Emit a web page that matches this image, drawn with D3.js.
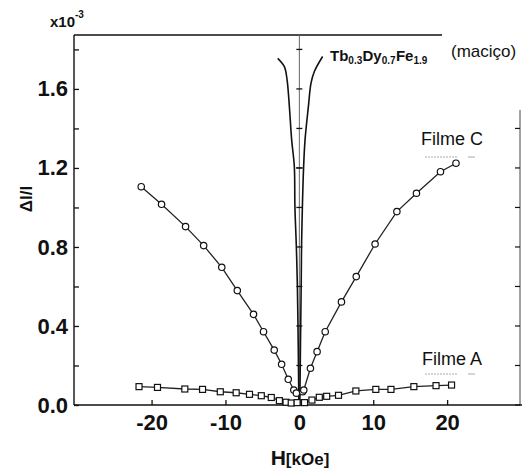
<!DOCTYPE html>
<html><head><meta charset="utf-8">
<script src="https://cdn.jsdelivr.net/npm/d3@7/dist/d3.min.js"></script>
<style>
body{margin:0;background:#fff;}
svg{display:block;font-family:"Liberation Sans",Arial,sans-serif;}
</style></head><body>
<svg id="c" width="522" height="469"></svg>
<script>
// Filme C (circles)
const filmeC_H = [-21.4,-18.65,-15.4,-12.95,-10.5,-8.4,-6.2,-4.85,-3.4,-2.4,-1.5,-0.75,-0.4,0.45,0.6,1.5,2.4,3.5,5.7,7.7,10.25,13.2,15.85,19.1,21.2];
const filmeC_V = [1.105,1.016,0.903,0.807,0.697,0.579,0.459,0.371,0.278,0.206,0.130,0.076,0.060,0.067,0.076,0.186,0.270,0.371,0.522,0.650,0.815,0.979,1.072,1.181,1.224];
// Filme A (squares)
const filmeA_H = [-21.7,-19.2,-15.5,-13.1,-10.7,-8.55,-6.75,-5.15,-3.8,-2.7,-1.8,-1.1,-0.3,0.7,1.7,2.7,3.7,5.3,7.65,10.35,12.4,15.5,18.5,20.6];
const filmeA_V = [0.093,0.089,0.081,0.079,0.067,0.062,0.054,0.047,0.038,0.022,0.014,0.010,0.012,0.012,0.025,0.039,0.044,0.049,0.071,0.079,0.079,0.093,0.098,0.101];
// Tb0.3Dy0.7Fe1.9 bulk - left and right branches
const tbLeft_H  = [-2.93,-2.03,-1.66,-1.35,-1.04,-0.68,-0.6,-0.41,-0.27,-0.15,-0.07];
const tbLeft_V  = [1.755,1.713,1.646,1.510,1.342,1.207,1.003,0.805,0.608,0.30,0.01];
const tbRight_H = [3.15,2.03,1.58,1.22,0.77,0.58,0.41,0.30,0.25,0.15,0.07];
const tbRight_V = [1.764,1.688,1.629,1.510,1.342,1.207,1.003,0.805,0.608,0.30,0.01];
const xTicks = [-20,-10,0,10,20];
const yMajor = [0.0,0.4,0.8,1.2,1.6];
const yAll = [0.0,0.2,0.4,0.6,0.8,1.0,1.2,1.4,1.6,1.8];

const svg = d3.select("#c");
const x = d3.scaleLinear().domain([-30.5,30]).range([74,521]);
const y = d3.scaleLinear().domain([0,1.873]).range([405,35]);
const ink = "#111";

// frame lines
svg.append("line").attr("x1",74).attr("x2",442).attr("y1",y(1.873)).attr("y2",y(1.873)).attr("stroke",ink).attr("stroke-width",1.3);
svg.append("line").attr("x1",520).attr("x2",520).attr("y1",110).attr("y2",405).attr("stroke","#444").attr("stroke-width",1);
svg.selectAll(".rt").data(yAll.filter(v=>v<1.5)).enter().append("line")
  .attr("x1",515).attr("x2",520).attr("y1",d=>y(d)).attr("y2",d=>y(d)).attr("stroke",ink).attr("stroke-width",1.2);

// center line at H=0
svg.append("line").attr("x1",x(0)).attr("x2",x(0)).attr("y1",y(1.873)).attr("y2",405).attr("stroke","#666").attr("stroke-width",1);
svg.selectAll(".ct").data(yAll.slice(1)).enter().append("line")
  .attr("x1",x(0)-3).attr("x2",x(0)+3).attr("y1",d=>y(d)).attr("y2",d=>y(d)).attr("stroke",ink).attr("stroke-width",1.3);

// axes
const xAxis = svg.append("g").attr("transform","translate(0,405)")
  .call(d3.axisBottom(x).tickValues(xTicks).tickSize(-5).tickSizeOuter(0).tickPadding(9).tickFormat(d=>String(d)));
const yAxis = svg.append("g").attr("transform","translate(74,0)")
  .call(d3.axisLeft(y).tickValues(yAll).tickSize(-5).tickSizeOuter(0).tickPadding(6)
    .tickFormat(d=> yMajor.some(m=>Math.abs(m-d)<1e-9) ? d.toFixed(1) : ""));
[xAxis,yAxis].forEach(g=>{
  g.select(".domain").attr("stroke",ink).attr("stroke-width",1.4);
  g.selectAll(".tick line").attr("stroke",ink).attr("stroke-width",1.3);
  g.selectAll(".tick text").attr("fill",ink).attr("font-size",22).attr("font-weight","bold")
   .attr("font-family","'Liberation Sans',Arial,sans-serif");
});
yAxis.select(".domain").attr("d","M0,405V"+y(1.873));
xAxis.select(".domain").attr("d","M74,0H522");

// Tb curve
const tbLine = d3.line().x(d=>x(d[0])).y(d=>y(d[1])).curve(d3.curveCatmullRom);
svg.append("path").attr("d",tbLine(tbLeft_H.map((h,i)=>[h,tbLeft_V[i]]))).attr("fill","none").attr("stroke",ink).attr("stroke-width",1.6);
svg.append("path").attr("d",tbLine(tbRight_H.map((h,i)=>[h,tbRight_V[i]]))).attr("fill","none").attr("stroke",ink).attr("stroke-width",1.6);
svg.append("line").attr("x1",x(-0.45)).attr("x2",x(0.45)).attr("y1",y(1.2)).attr("y2",y(1.2)).attr("stroke",ink).attr("stroke-width",1.2);

// Filme C / Filme A
const cData = filmeC_H.map((h,i)=>[h,filmeC_V[i]]);
const aData = filmeA_H.map((h,i)=>[h,filmeA_V[i]]);
const lin = d3.line().x(d=>x(d[0])).y(d=>y(d[1]));
svg.append("path").attr("d",lin(aData)).attr("fill","none").attr("stroke","#222").attr("stroke-width",1.3);
svg.append("path").attr("d",lin(cData)).attr("fill","none").attr("stroke","#222").attr("stroke-width",1.3);
svg.selectAll(".sq").data(aData).enter().append("rect")
  .attr("x",d=>x(d[0])-3).attr("y",d=>y(d[1])-3).attr("width",6).attr("height",6)
  .attr("fill","#fff").attr("stroke",ink).attr("stroke-width",1.2);
svg.selectAll(".ci").data(cData).enter().append("circle")
  .attr("cx",d=>x(d[0])).attr("cy",d=>y(d[1])).attr("r",3.2)
  .attr("fill","#fff").attr("stroke",ink).attr("stroke-width",1.2);

// labels
svg.append("text").attr("x",50).attr("y",27).attr("font-size",15).attr("font-weight","bold").attr("fill",ink)
  .text("x10").append("tspan").attr("font-size",10).attr("dy",-9).text("-3");
svg.append("text").attr("transform","translate(32,199) rotate(-90)").attr("text-anchor","middle")
  .attr("font-size",17).attr("font-weight","bold").attr("fill",ink).text("ΔI/I");
const hl = svg.append("text").attr("x",300).attr("y",465).attr("text-anchor","middle").attr("font-weight","bold").attr("fill",ink);
hl.append("tspan").attr("font-size",21).text("H");
hl.append("tspan").attr("font-size",17).text("[kOe]");

const tb = svg.append("text").attr("x",330).attr("y",61).attr("font-size",15).attr("font-weight","bold").attr("fill",ink);
[["Tb","0.3"],["Dy","0.7"],["Fe","1.9"]].forEach(([a,b])=>{
  tb.append("tspan").attr("font-size",15).attr("dy",0).text(a);
  tb.append("tspan").attr("font-size",10).attr("dy",3).text(b);
  tb.append("tspan").attr("font-size",1).attr("dy",-3).text(" ");
});
svg.append("text").attr("x",451).attr("y",57).attr("font-size",17).attr("fill",ink).text("(maciço)");
svg.append("text").attr("x",421).attr("y",145).attr("font-size",18).attr("fill",ink).text("Filme C");
svg.append("text").attr("x",422).attr("y",365).attr("font-size",18).attr("fill",ink).text("Filme A");
// faint remnants under labels
[157,374].forEach(yy=>{
  svg.append("line").attr("x1",425).attr("x2",457).attr("y1",yy).attr("y2",yy).attr("stroke","#aaa").attr("stroke-dasharray","2,1");
  svg.append("line").attr("x1",468).attr("x2",475).attr("y1",yy).attr("y2",yy).attr("stroke","#aaa");
});
</script>
</body></html>
